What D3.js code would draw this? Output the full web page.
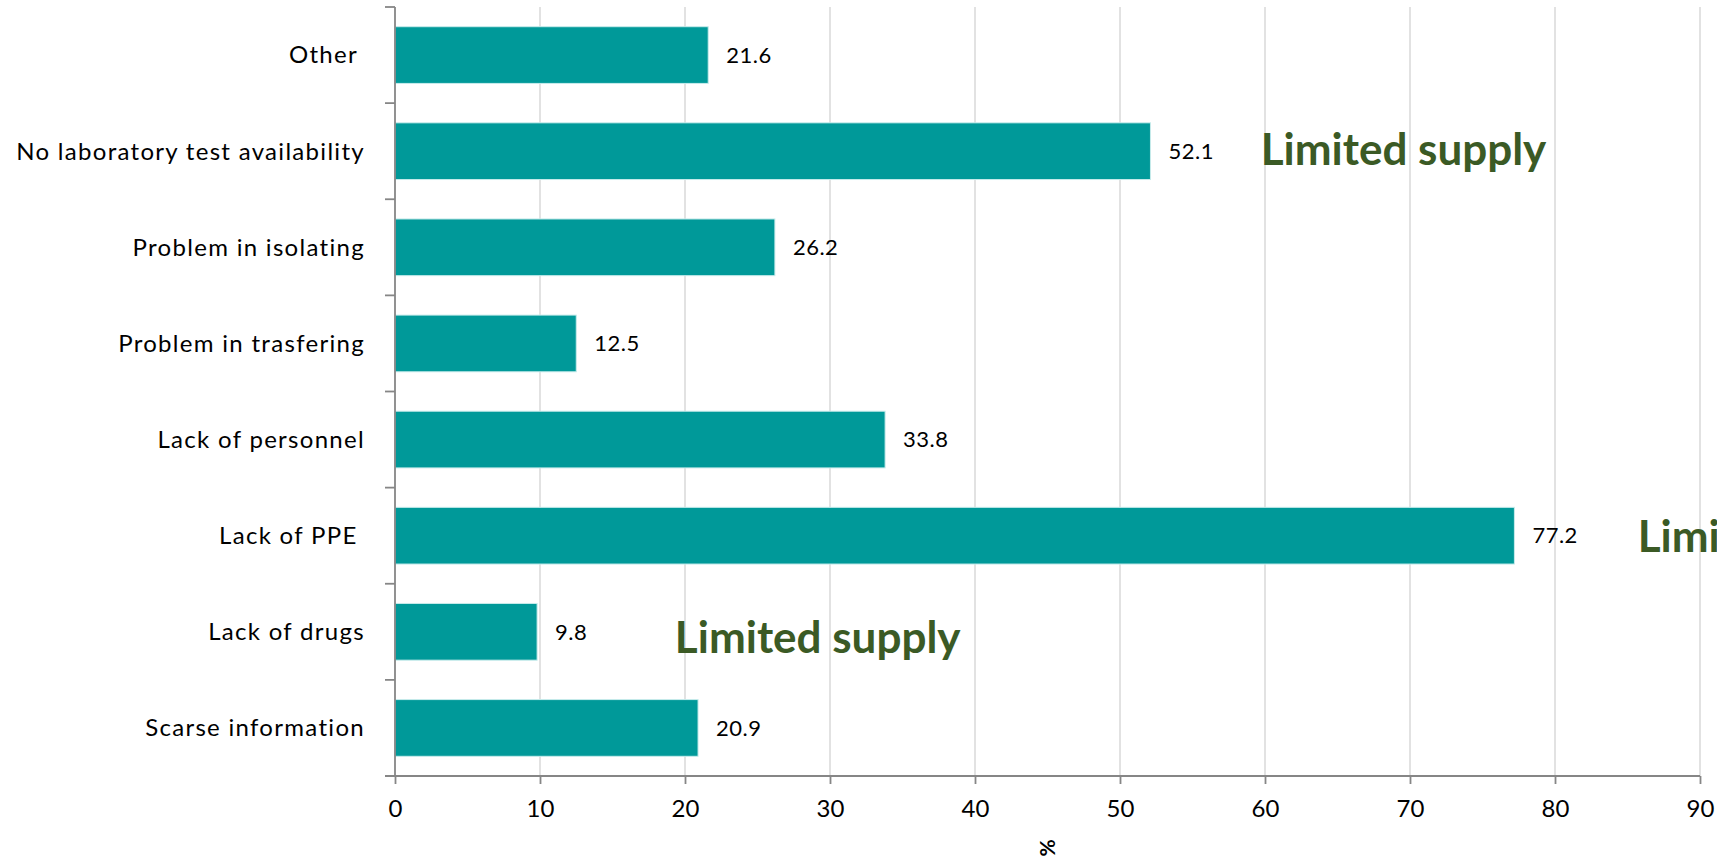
<!DOCTYPE html>
<html><head><meta charset="utf-8">
<script src="https://cdn.jsdelivr.net/npm/d3@7"></script>
<style>
html,body{margin:0;padding:0;background:#fff;overflow:hidden}
text{font-family:Lato,"Open Sans",sans-serif}
</style></head>
<body><svg id="chart" width="1717" height="859"></svg>
<script>
const categories = ["Other ", "No laboratory test availability", "Problem in isolating", "Problem in trasfering", "Lack of personnel", "Lack of PPE ", "Lack of drugs", "Scarse information"];
const values = [21.6, 52.1, 26.2, 12.5, 33.8, 77.2, 9.8, 20.9];
const xTicks = [0, 10, 20, 30, 40, 50, 60, 70, 80, 90];
const axisTitle = "%";
const annotationText = ["Limited supply", "Limited supply", "Limited supply"];
const annotationCategory = ["No laboratory test availability", "Lack of drugs", "Lack of PPE "];
const annotationX = [59.7, 19.3, 85.7];

(function () {
const svg = d3.select("#chart");
const mLeft = 395, mRight = 1700, mTop = 7, mBottom = 776;
const x = d3.scaleLinear().domain([0, 90]).range([mLeft, mRight]);
const y = d3.scaleBand().domain(categories).range([mTop, mBottom]).paddingInner(0.41).paddingOuter(0.205);
const yEdges = d3.scaleBand().domain(categories).range([mTop, mBottom]);

// gridlines
svg.append("g").selectAll("line").data(xTicks.filter(d => d > 0)).join("line")
  .attr("x1", d => x(d)).attr("x2", d => x(d)).attr("y1", mTop).attr("y2", mBottom)
  .attr("stroke", "#d9d9d9").attr("stroke-width", 1.5);

// bars
svg.append("g").selectAll("rect").data(categories).join("rect")
  .attr("x", x(0)).attr("y", d => y(d))
  .attr("width", (d, i) => x(values[i]) - x(0)).attr("height", y.bandwidth())
  .attr("fill", "#009999").attr("stroke", "#c8ecec").attr("stroke-width", 1);

// value labels
svg.append("g").selectAll("text").data(categories).join("text")
  .attr("x", (d, i) => x(values[i]) + 18).attr("y", d => y(d) + y.bandwidth() / 2)
  .attr("dy", "0.35em").attr("font-size", 22).attr("letter-spacing", 0.5).attr("fill", "#000")
  .text((d, i) => values[i].toFixed(1));

// x axis
const xAxis = d3.axisBottom(x).tickValues(xTicks).tickSize(8).tickPadding(16).tickFormat(d3.format("d"));
const gx = svg.append("g").attr("transform", `translate(0,${mBottom})`).call(xAxis);
gx.select(".domain").attr("stroke", "#868686").attr("stroke-width", 1.8).attr("d", `M${mLeft - 10},0H${mRight}`);
gx.selectAll(".tick line").attr("stroke", "#868686").attr("stroke-width", 1.8);
gx.selectAll(".tick text").attr("font-size", 24).attr("fill", "#000").style("font-family", "Lato, sans-serif");

// y axis
const gy = svg.append("g").attr("transform", `translate(${mLeft},0)`);
gy.append("line").attr("x1", 0).attr("x2", 0).attr("y1", mTop).attr("y2", mBottom)
  .attr("stroke", "#868686").attr("stroke-width", 1.8);
const edges = categories.map(c => yEdges(c)).concat([mBottom]);
gy.selectAll("line.tk").data(edges).join("line").attr("class", "tk")
  .attr("x1", -10).attr("x2", 0).attr("y1", d => d).attr("y2", d => d)
  .attr("stroke", "#868686").attr("stroke-width", 1.8);
gy.selectAll("text").data(categories).join("text")
  .attr("x", -30).attr("y", d => y(d) + y.bandwidth() / 2).attr("dy", "0.35em")
  .attr("text-anchor", "end").attr("font-size", 24).attr("letter-spacing", 1.3).attr("fill", "#000")
  .style("white-space", "pre")
  .text(d => d);

// axis title
svg.append("text").attr("transform", `translate(${(mLeft + mRight) / 2},${848}) rotate(-90)`)
  .attr("text-anchor", "middle").attr("dy", "0.35em").attr("font-size", 21).attr("font-weight", "bold")
  .text(axisTitle);

// annotations
const annOffsets = [14, 21, 16];
svg.append("g").selectAll("text").data(annotationText).join("text")
  .attr("x", (d, i) => x(annotationX[i]))
  .attr("y", (d, i) => y(annotationCategory[i]) + y.bandwidth() / 2 + annOffsets[i])
  .attr("font-size", 44).attr("font-weight", "bold").attr("fill", "#3b5a25")
  .text(d => d);
})();
</script></body></html>
